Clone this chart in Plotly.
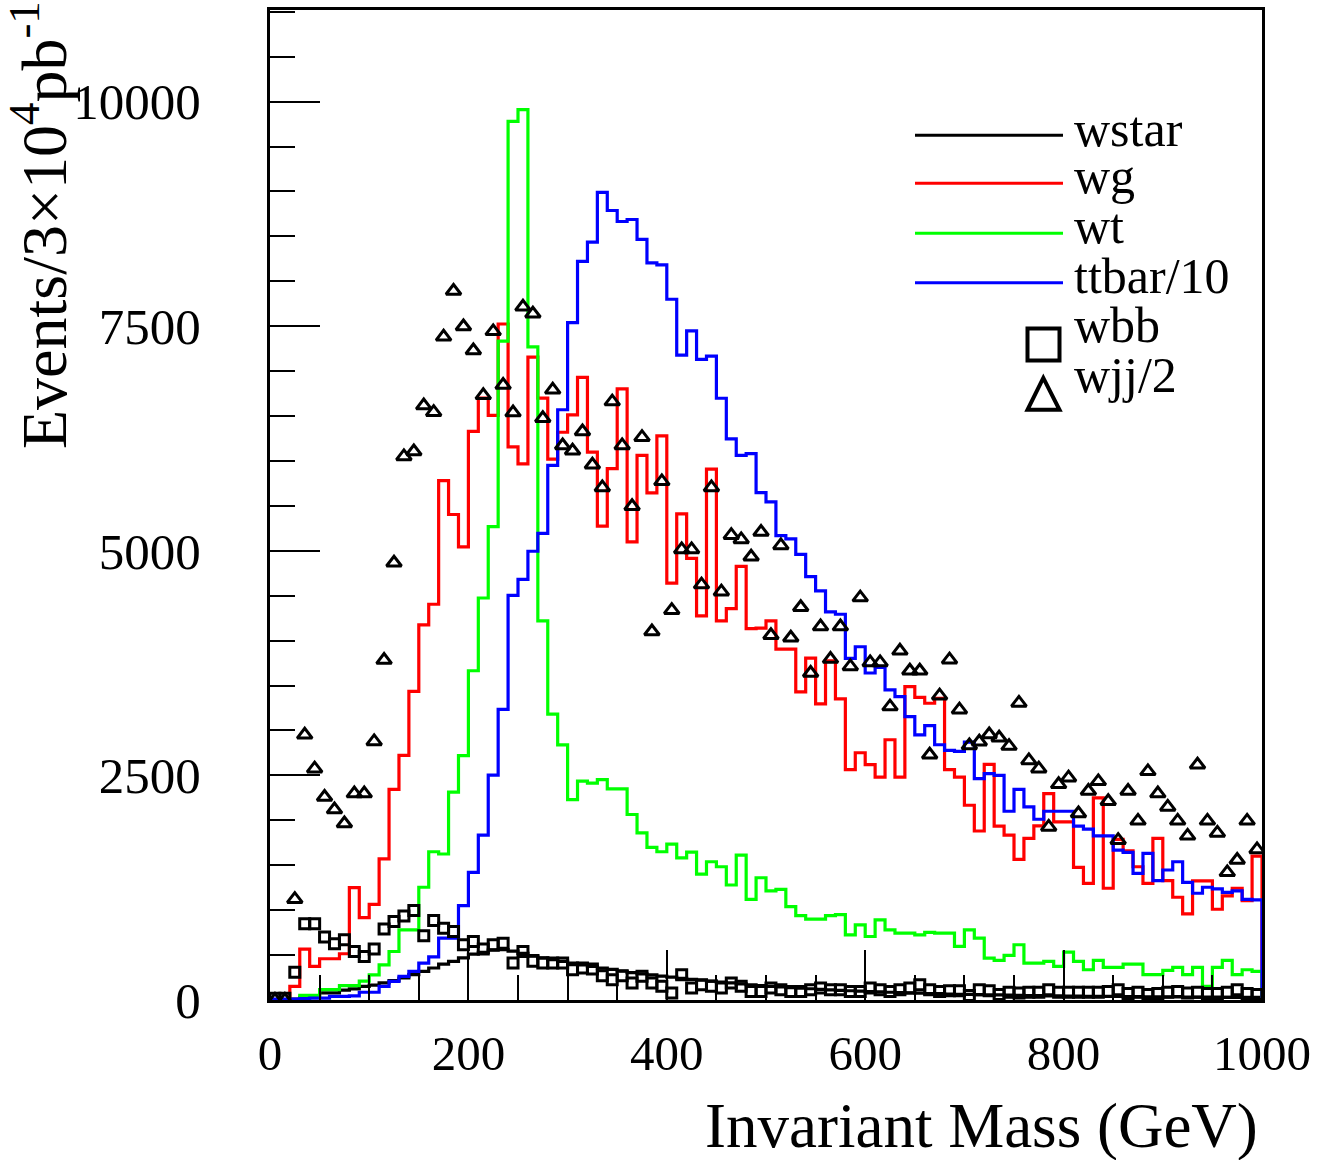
import plotly.graph_objects as go

# bin centres (GeV), 10 GeV bins from 0 to 1000
bin_width = 10
n_bins = 100
bin_lo = [bin_width * i for i in range(n_bins)]
bin_centers = [bin_width * i + bin_width / 2 for i in range(n_bins)]

wstar = [0, 0, 10, 30, 45, 79, 79, 110, 123, 152,
         165, 190, 215, 245, 282, 318, 356, 400, 430, 470,
         510, 530, 555, 560, 545, 520, 495, 470, 450, 430,
         410, 390, 375, 355, 340, 320, 305, 290, 280, 265,
         255, 240, 230, 220, 210, 200, 190, 180, 170, 160,
         152, 145, 138, 131, 125, 119, 113, 108, 103, 98,
         94, 90, 86, 82, 79, 76, 72, 70, 67, 64,
         62, 60, 58, 56, 54, 52, 50, 49, 47, 46,
         44, 43, 42, 41, 40, 39, 38, 37, 36, 35,
         34, 34, 33, 32, 32, 31, 30, 30, 29, 29]

wg = [0, 0, 152, 567, 374, 459, 459, 515, 1250, 918,
      1065, 1570, 2345, 2722, 3436, 4176, 4405, 5781, 5404, 5043,
      6330, 6699, 6508, 7525, 6158, 5967, 7157, 6699, 6020, 6320,
      6513, 6930, 6098, 5274, 5914, 6802, 5100, 6062, 5644, 6280,
      4640, 5411, 4916, 4276, 5910, 4220, 4357, 4826, 4135, 4140,
      4220, 3906, 3906, 3430, 3806, 3296, 3776, 3351, 2564, 2752,
      2619, 2482, 2897, 2482, 3488, 3369, 3303, 3358, 2564, 2482,
      2168, 1881, 2622, 1935, 1835, 1565, 1798, 1938, 2297, 1983,
      1983, 1477, 1299, 2249, 1244, 1787, 1660, 1483, 1299, 1798,
      1328, 1144, 959, 1325, 1325, 1010, 1158, 1244, 1106, 1602]

wt = [0, 0, 0, 52, 52, 115, 115, 160, 160, 210,
      280, 390, 540, 780, 780, 1255, 1650, 1625, 2315, 2720,
      3665, 4475, 5270, 7335, 9780, 9910, 7270, 4220, 3183, 2840,
      2231, 2437, 2415, 2453, 2349, 2349, 2065, 1861, 1698, 1650,
      1735, 1583, 1646, 1402, 1539, 1483, 1280, 1613, 1121, 1361,
      1214, 1232, 1040, 940, 900, 900, 940, 950, 726, 837,
      707, 892, 781, 744, 744, 726, 752, 744, 744, 596,
      781, 689, 467, 441, 496, 615, 411, 411, 430, 374,
      534, 430, 337, 441, 363, 363, 400, 400, 282, 282,
      330, 363, 282, 363, 152, 363, 441, 282, 337, 318]

ttbar_10 = [10, 10, 10, 15, 20, 20, 40, 40, 45, 86,
            86, 152, 208, 263, 318, 411, 480, 689, 689, 1050,
            1420, 1835, 2503, 3234, 4505, 4683, 4995, 5195, 5950, 6570,
            7540, 8222, 8436, 8991, 8788, 8666, 8688, 8466, 8206, 8184,
            7800, 7179, 7449, 7130, 7168, 6698, 6247, 6062, 6081, 5648,
            5545, 5170, 5133, 4960, 4712, 4553, 4320, 4294, 3802, 3932,
            3640, 3702, 3451, 3377, 3155, 2952, 3055, 2841, 2778, 2767,
            2870, 2464, 2519, 2500, 2101, 2345, 2149, 2012, 2101, 2101,
            2101, 1935, 1901, 1827, 1827, 1668, 1643, 1410, 1632, 1328,
            1447, 1539, 1310, 1188, 1255, 1236, 1199, 1214, 1121, 1114]

wbb = [20, 20, 308, 848, 848, 700, 626, 670, 540, 485,
       567, 789, 873, 936, 995, 714, 884, 800, 762, 615,
       651, 567, 615, 633, 411, 540, 430, 411, 411, 411,
       337, 356, 345, 271, 226, 270, 190, 263, 189, 152,
       79, 282, 134, 171, 152, 134, 189, 152, 96, 96,
       134, 115, 96, 96, 115, 134, 115, 115, 96, 96,
       134, 115, 96, 115, 134, 171, 115, 96, 104, 104,
       49, 115, 104, 60, 85, 79, 85, 85, 115, 85,
       85, 85, 85, 85, 96, 115, 71, 85, 60, 71,
       85, 96, 79, 85, 71, 71, 85, 115, 71, 60]

wjj_2 = [0, 0, 1122, 2952, 2575, 2260, 2120, 1965, 2298, 2298,
         2878, 3784, 4867, 6051, 6106, 6617, 6543, 7382, 7892, 7497,
         7230, 6731, 7443, 6845, 6539, 7716, 7639, 6476, 6792, 6172,
         6114, 6328, 5958, 5706, 6661, 6173, 5496, 6265, 4102, 5773,
         4339, 5016, 5016, 4624, 5706, 4545, 5174, 5127, 4934, 5209,
         4060, 5060, 4032, 4372, 3640, 4157, 3795, 4157, 3713, 4479,
         3758, 3758, 3266, 3887, 3665, 3665, 2730, 3388, 3788, 3232,
         2833, 2875, 2955, 2919, 2826, 3307, 2667, 2575, 1927, 2401,
         2475, 2076, 2326, 2434, 2212, 1779, 2326, 1994, 2545, 2298,
         2149, 1994, 1827, 2619, 1994, 1860, 1421, 1558, 1994, 1676]

x_ticks = [0, 200, 400, 600, 800, 1000]
y_ticks = [0, 2500, 5000, 7500, 10000]

hist_series = [("wstar", wstar, "black"), ("wg", wg, "#ff0000"),
               ("wt", wt, "#00ff00"), ("ttbar/10", ttbar_10, "#0000ff")]

FONT = "Liberation Serif, Times New Roman, serif"

fig = go.Figure()


def outline(vals):
    xs = [0] + bin_lo + [n_bins * bin_width, n_bins * bin_width]
    ys = [0] + list(vals) + [vals[-1], 0]
    return xs, ys


for name, vals, col in hist_series:
    xs, ys = outline(vals)
    fig.add_trace(go.Scatter(x=xs, y=ys, mode="lines", name=name,
                             line=dict(color=col, width=3.2, shape="hv"),
                             showlegend=False, hoverinfo="skip"))

fig.add_trace(go.Scatter(x=bin_centers, y=wbb, mode="markers", name="wbb",
                         marker=dict(symbol="square-open", size=10, color="black",
                                     line=dict(width=3, color="black")),
                         showlegend=False))
fig.add_trace(go.Scatter(x=bin_centers, y=wjj_2, mode="markers", name="wjj/2",
                         marker=dict(symbol="triangle-up-open", size=13, color="black",
                                     line=dict(width=3, color="black")),
                         showlegend=False))

# plot-area geometry in pixels (for legend placement)
L, R, T, B = 270, 1262, 7, 1000
def px(xp):
    return (xp - L) / (R - L)
def py(yp):
    return (B - yp) / (B - T)

shapes = []
annotations = []
leg_lines = [("wstar", "black", 132.7), ("wg", "#ff0000", 180.7),
             ("wt", "#00ff00", 231), ("ttbar/10", "#0000ff", 280.7)]
for lab, col, yy in leg_lines:
    shapes.append(dict(type="line", xref="paper", yref="paper",
                       x0=px(915), x1=px(1063), y0=py(yy), y1=py(yy),
                       line=dict(color=col, width=3)))
# square symbol
shapes.append(dict(type="rect", xref="paper", yref="paper",
                   x0=px(1027.5), x1=px(1059.5), y0=py(358.5), y1=py(326.5),
                   line=dict(color="black", width=4)))
# triangle symbol
shapes.append(dict(type="path", xref="paper", yref="paper",
                   path=f"M {px(1027.5)},{py(408)} L {px(1059.5)},{py(408)} L {px(1043.3)},{py(376)} Z",
                   line=dict(color="black", width=4)))

leg_labels = [("wstar", 126), ("wg", 174), ("wt", 224), ("ttbar/10", 274),
              ("wbb", 323), ("wjj/2", 373)]
for lab, yy in leg_labels:
    annotations.append(dict(text=lab, xref="paper", yref="paper", x=px(1072), y=py(yy),
                            xanchor="left", yanchor="middle", showarrow=False,
                            font=dict(family=FONT, size=50, color="black")))

annotations.append(dict(text="Invariant Mass (GeV)", xref="paper", yref="paper",
                        x=px(1260), y=py(1126), xanchor="right", yanchor="middle",
                        showarrow=False, font=dict(family=FONT, size=63, color="black")))
annotations.append(dict(text="Events/3×10<sup>4</sup>pb<sup>-1</sup>", xref="paper", yref="paper",
                        x=px(39), y=py(-4), xanchor="center", yanchor="top", textangle=-90,
                        showarrow=False, font=dict(family=FONT, size=64, color="black")))

fig.update_layout(
    width=1322, height=1160,
    margin=dict(l=L, r=1322 - R, t=T, b=1160 - B),
    paper_bgcolor="white", plot_bgcolor="white",
    shapes=shapes, annotations=annotations,
    font=dict(family=FONT, color="black"),
    showlegend=False,
)
fig.update_xaxes(range=[0, 1000], tickvals=x_ticks, ticktext=[str(v) for v in x_ticks],
                 ticks="inside", ticklen=50, tickwidth=2, tickcolor="black",
                 minor=dict(dtick=50, tick0=0, ticks="inside", ticklen=25, tickwidth=2,
                            tickcolor="black", showgrid=False),
                 showline=True, linewidth=3, linecolor="black", mirror=True,
                 showgrid=False, zeroline=False, ticklabelstandoff=8,
                 tickfont=dict(family=FONT, size=49, color="black"))
fig.update_yaxes(range=[0, 11020], tickvals=y_ticks, ticktext=[str(v) for v in y_ticks],
                 ticks="inside", ticklen=50, tickwidth=2, tickcolor="black",
                 minor=dict(dtick=500, tick0=0, ticks="inside", ticklen=25, tickwidth=2,
                            tickcolor="black", showgrid=False),
                 showline=True, linewidth=3, linecolor="black", mirror=True,
                 showgrid=False, zeroline=False, ticklabelstandoff=56,
                 tickfont=dict(family=FONT, size=51, color="black"))

fig.write_html("out.html")
